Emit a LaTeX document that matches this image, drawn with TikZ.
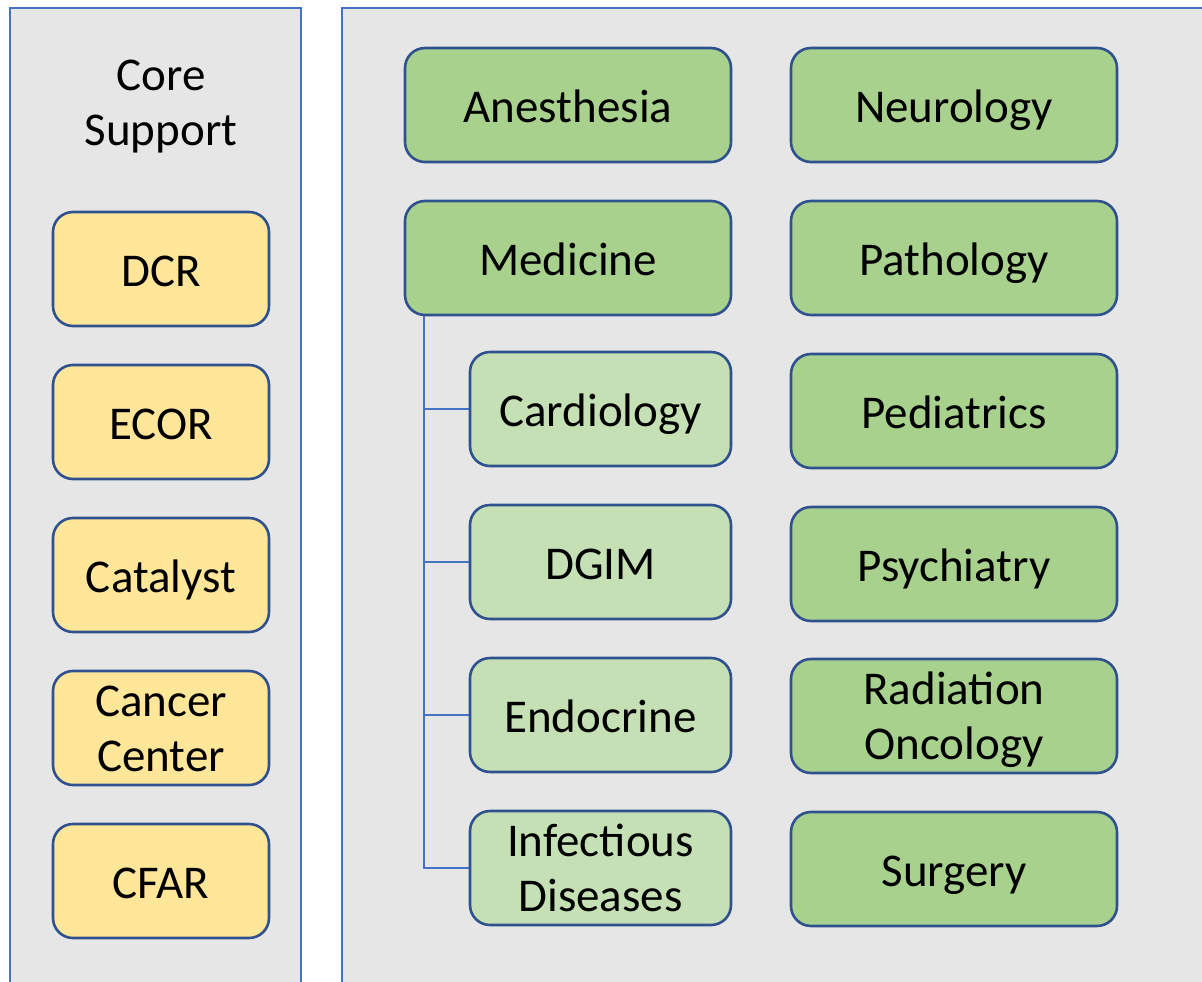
\documentclass[tikz,border=0pt]{standalone}
\usepackage{fontspec}
\setmainfont{Carlito}
\definecolor{panelfill}{HTML}{E6E6E6}
\definecolor{panelline}{HTML}{4472C4}
\definecolor{boxline}{HTML}{2F528F}
\definecolor{coreyellow}{HTML}{FFE699}
\definecolor{deptgreen}{HTML}{A9D18E}
\definecolor{divgreen}{HTML}{C5E0B4}
\tikzset{
  panel/.style={draw=panelline,fill=panelfill,line width=2pt},
  oneline/.style={text height=40pt,text depth=6pt},
  twoline/.style={text height=88pt,text depth=2pt},
  unit/.style={draw=boxline,line width=2.6pt,rounded corners=20pt,align=center,
    font=\fontsize{47}{55}\selectfont,inner sep=0pt,minimum height=114pt},
  core/.style={unit,fill=coreyellow,minimum width=216pt},
  dept/.style={unit,fill=deptgreen,minimum width=326pt},
  division/.style={unit,fill=divgreen,minimum width=261pt},
  branch/.style={draw=panelline,line width=2.2pt}
}
\begin{document}
\begin{tikzpicture}[x=1pt,y=-1pt]
\useasboundingbox (0,0) rectangle (1202,982);
% the two panels run off the page at the bottom
\draw[panel] (10,8) rectangle (301,1000);
\draw[panel] (342,8) rectangle (1220,1000);
\node[twoline,inner sep=0pt,align=center,font=\fontsize{47}{55}\selectfont] (coretitle) at (161,102) {Core\\Support};
% core support
\foreach \name/\y/\lines/\txt in {dcr/269/oneline/DCR,ecor/422/oneline/ECOR,catalyst/575/oneline/Catalyst,cancer/728/twoline/Cancer\\Center,cfar/881/oneline/CFAR} {
  \node[core,\lines] (\name) at (161,\y) {\txt};
}
% departments
\foreach \name/\y/\lines/\txt in {neuro/105/oneline/Neurology,path/258/oneline/Pathology,peds/411/oneline/Pediatrics,psych/564/oneline/Psychiatry,rad/716/twoline/Radiation\\Oncology,surg/869/oneline/Surgery} {
  \node[dept,\lines] (\name) at (954,\y) {\txt};
}
\node[dept,oneline] (anes) at (568,105) {Anesthesia};
\node[dept,oneline] (med) at (568,258) {Medicine};
% divisions of medicine
\foreach \name/\y/\lines/\txt in {card/409/oneline/Cardiology,dgim/562/oneline/DGIM,endo/715/oneline/Endocrine,infect/868/twoline/Infectious\\Diseases} {
  \node[division,\lines] (\name) at (600.5,\y) {\txt};
}
\coordinate (trunk) at ([xshift=20pt]med.south west);
\foreach \name in {card,dgim,endo,infect} {
  \draw[branch] (trunk) |- (\name.west);
}
\end{tikzpicture}
\end{document}
